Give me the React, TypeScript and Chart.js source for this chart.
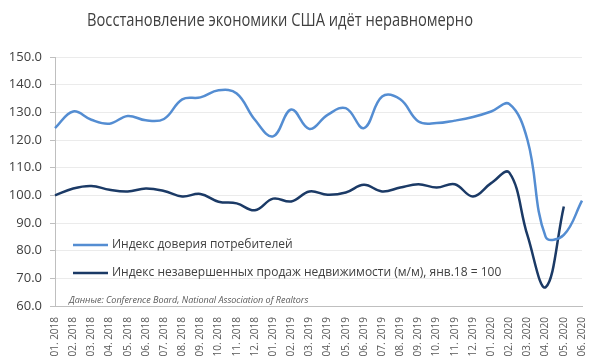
import React, { useEffect, useRef } from "react";
import { Chart, registerables } from "chart.js";

Chart.register(...registerables);

const months = [
  "01. 2018", "02. 2018", "03. 2018", "04. 2018", "05. 2018", "06. 2018",
  "07. 2018", "08. 2018", "09. 2018", "10. 2018", "11. 2018", "12. 2018",
  "01. 2019", "02. 2019", "03. 2019", "04. 2019", "05. 2019", "06. 2019",
  "07. 2019", "08. 2019", "09. 2019", "10. 2019", "11. 2019", "12. 2019",
  "01. 2020", "02. 2020", "03. 2020", "04. 2020", "05. 2020", "06. 2020",
];

const consumerConfidence = [
  124.3, 130.3, 127.3, 125.9, 128.7, 127.1, 127.6, 134.7, 135.4, 138.0,
  136.8, 127.3, 121.3, 131.0, 124.0, 129.1, 131.5, 124.3, 135.7, 134.7,
  126.7, 126.1, 127.0, 128.3, 130.3, 133.0, 120.0, 85.0, 85.7, 98.1,
];

const pendingHomeSales = [
  100.0, 102.5, 103.4, 102.0, 101.4, 102.5, 101.6, 99.6, 100.5, 97.7,
  97.1, 94.6, 98.8, 97.8, 101.4, 100.2, 101.0, 103.8, 101.4, 102.8,
  104.0, 102.8, 104.0, 99.6, 104.4, 108.2, 85.5, 66.8, 96.0, null,
];

const yMin = 60;
const yMax = 150;
const yStep = 10;

const titleText = "Восстановление экономики США идёт неравномерно";
const legendLabels = [
  "Индекс доверия потребителей",
  "Индекс незавершенных продаж недвижимости (м/м), янв.18 = 100",
];
const sourceText = "Данные: Conference Board, National Association of Realtors";

const lightBlue = "#548dd2";
const darkBlue = "#1b3a66";
const FONT = "'Open Sans', 'Noto Sans', sans-serif";

export default function App() {
  const ref = useRef<HTMLCanvasElement>(null);

  useEffect(() => {
    document.body.style.margin = "0";
    const colors = [lightBlue, darkBlue];
    const overlay = {
      id: "overlay",
      afterDraw(chart: any) {
        const ctx = chart.ctx as CanvasRenderingContext2D;
        ctx.save();
        ctx.fillStyle = "#404040";
        ctx.font = `18px ${FONT}`;
        ctx.textAlign = "center";
        ctx.textBaseline = "alphabetic";
        ctx.fillText(titleText, 280, 26, 386);

        const area = chart.chartArea;
        const lx0 = area.left + 18;
        const lys = [245, 273];
        legendLabels.forEach((lbl, i) => {
          ctx.strokeStyle = colors[i];
          ctx.lineWidth = 2.5;
          ctx.beginPath();
          ctx.moveTo(lx0, lys[i]);
          ctx.lineTo(lx0 + 35, lys[i]);
          ctx.stroke();
          ctx.fillStyle = "#404040";
          ctx.font = `12px ${FONT}`;
          ctx.textAlign = "left";
          ctx.textBaseline = "middle";
          ctx.fillText(lbl, lx0 + 39, lys[i]);
        });

        ctx.fillStyle = "#595959";
        ctx.font = `italic 9px ${FONT}`;
        ctx.textAlign = "left";
        ctx.textBaseline = "middle";
        ctx.fillText(sourceText, area.left + 14, 300);
        ctx.restore();
      },
    };

    const chart = new Chart(ref.current as HTMLCanvasElement, {
      type: "line",
      data: {
        labels: months,
        datasets: [
          {
            label: legendLabels[0],
            data: consumerConfidence,
            borderColor: lightBlue,
            backgroundColor: lightBlue,
            borderWidth: 2.5,
            tension: 0.4,
            pointRadius: 0,
            fill: false,
          },
          {
            label: legendLabels[1],
            data: pendingHomeSales,
            borderColor: darkBlue,
            backgroundColor: darkBlue,
            borderWidth: 2.5,
            tension: 0.4,
            pointRadius: 0,
            fill: false,
            spanGaps: false,
          },
        ],
      },
      options: {
        responsive: false,
        animation: false,
        layout: { padding: { top: 57, right: 18, left: 0, bottom: 0 } },
        plugins: {
          legend: { display: false },
          title: { display: false },
          tooltip: { enabled: false },
        },
        scales: {
          x: {
            grid: { display: false, drawTicks: true, tickLength: 8 },
            border: { display: true, color: "#bfbfbf", width: 1 },
            ticks: {
              autoSkip: false,
              minRotation: 90,
              maxRotation: 90,
              padding: 3,
              color: "#595959",
              font: { family: FONT, size: 10 },
            },
            afterFit(scale: any) {
              scale.height = 55;
            },
          },
          y: {
            min: yMin,
            max: yMax,
            ticks: {
              stepSize: yStep,
              padding: 8,
              color: "#404040",
              font: { family: FONT, size: 13 },
              callback: (v: any) => Number(v).toFixed(1),
            },
            grid: {
              color: "#ebebeb",
              tickColor: "#bfbfbf",
              tickLength: 5,
              drawTicks: true,
            },
            border: { display: true, color: "#bfbfbf", width: 1 },
            afterFit(scale: any) {
              scale.width = 55;
            },
          },
        },
      },
      plugins: [overlay],
    } as any);
    return () => chart.destroy();
  }, []);

  return (
    <div style={{ width: 600, height: 361 }}>
      <canvas ref={ref} width={600} height={361} style={{ display: "block" }} />
    </div>
  );
}
